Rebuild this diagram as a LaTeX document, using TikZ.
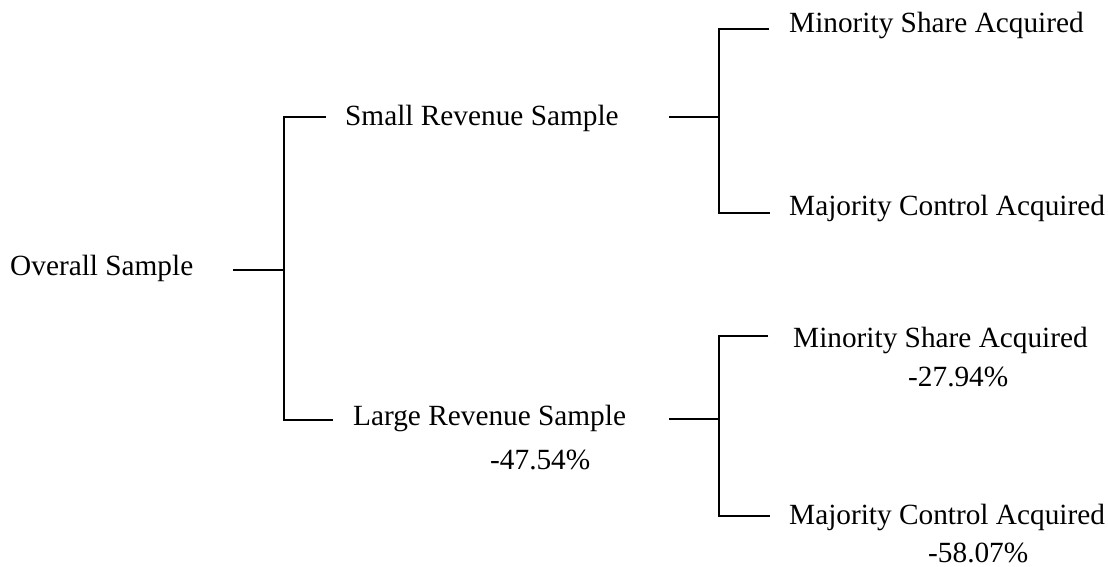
\documentclass[tikz,border=0pt]{standalone}
\usepackage{fontspec}
\setmainfont{Liberation Serif}
\begin{document}
\begin{tikzpicture}[x=1pt,y=-1pt,
  label/.style={anchor=base west,inner sep=0pt,font=\fontsize{29.3}{35}\selectfont},
  branch/.style={line width=1.6pt,black}]
\useasboundingbox (0,0) rectangle (1108,567);

% text nodes
\node[label] (overall) at (10,275) {Overall Sample};
\node[label] (small) at (345,126) {Small Revenue Sample};
\node[label] (large) at (353,425) {Large Revenue Sample};
\node[label] (largepct) at (490,469) {-47.54\%};
\node[label] (smin) at (789,33) {Minority Share Acquired};
\node[label] (smaj) at (789,215) {Majority Control Acquired};
\node[label] (lmin) at (793,347) {Minority Share Acquired};
\node[label] (lminpct) at (908,386) {-27.94\%};
\node[label] (lmaj) at (789,524) {Majority Control Acquired};
\node[label] (lmajpct) at (928,562) {-58.07\%};

% bracket ends and junctions
\coordinate (o0) at (233,270);
\coordinate (j0) at (284,270);
\coordinate (t0) at (326,117);
\coordinate (b0) at (333,420);

\coordinate (s0) at (669,117);
\coordinate (j1) at (719,117);
\coordinate (t1) at (769,29);
\coordinate (b1) at (770,213);

\coordinate (l0) at (669,419);
\coordinate (j2) at (719,419);
\coordinate (t2) at (768,336);
\coordinate (b2) at (770,516);

% first split
\draw[branch] (o0) -- (j0);
\draw[branch] (t0) -| (j0) |- (b0);
% small revenue split
\draw[branch] (s0) -- (j1);
\draw[branch] (t1) -| (j1) |- (b1);
% large revenue split
\draw[branch] (l0) -- (j2);
\draw[branch] (t2) -| (j2) |- (b2);
\end{tikzpicture}
\end{document}
